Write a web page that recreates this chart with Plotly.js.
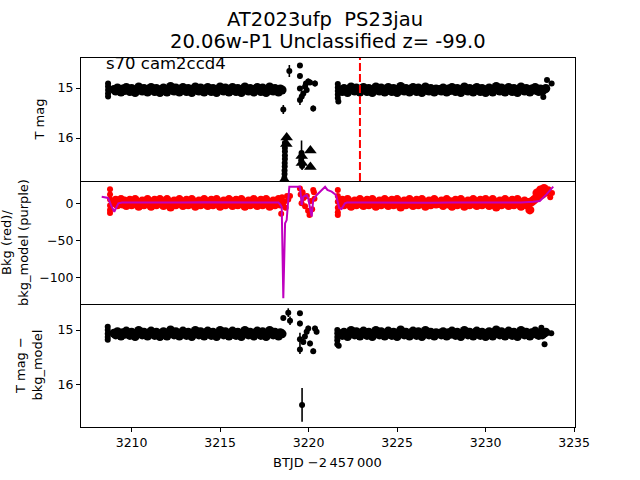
<!DOCTYPE html>
<html>
<head>
<meta charset="utf-8">
<script src="https://cdn.plot.ly/plotly-3.0.1.min.js"></script>
<style>html,body{margin:0;padding:0;background:#fff;}</style>
</head>
<body>
<div id="chart" style="width:640px;height:480px;"></div>
<script>
// ---------------- data ----------------
const titleLine1 = "AT2023ufp\u00a0\u00a0PS23jau";
const titleLine2 = "20.06w-P1 Unclassified z= -99.0";
const fieldLabel = "s70 cam2ccd4";
const xTitle = "BTJD \u22122\u2009457\u2009000";
const discoveryT = 3222.9;

const xTicks = [3210, 3215, 3220, 3225, 3230, 3235];
const magTicks = [15, 16];
const bkgTicks = [0, -50, -100];
const bkgTickText = ["0", "\u221250", "\u2212100"];

// orbit 1 cadence times
const tA = [
3209.0,3209.1,3209.2,3209.3,3209.4,3209.5,3209.6,3209.7,3209.8,3209.9,
3210.0,3210.1,3210.2,3210.3,3210.4,3210.5,3210.6,3210.7,3210.8,3210.9,
3211.0,3211.1,3211.2,3211.3,3211.4,3211.5,3211.6,3211.7,3211.8,3211.9,
3212.0,3212.1,3212.2,3212.3,3212.4,3212.5,3212.6,3212.7,3212.8,3212.9,
3213.0,3213.1,3213.2,3213.3,3213.4,3213.5,3213.6,3213.7,3213.8,3213.9,
3214.0,3214.1,3214.2,3214.3,3214.4,3214.5,3214.6,3214.7,3214.8,3214.9,
3215.0,3215.1,3215.2,3215.3,3215.4,3215.5,3215.6,3215.7,3215.8,3215.9,
3216.0,3216.1,3216.2,3216.3,3216.4,3216.5,3216.6,3216.7,3216.8,3216.9,
3217.0,3217.1,3217.2,3217.3,3217.4,3217.5,3217.6,3217.7,3217.8,3217.9,
3218.0,3218.1,3218.2,3218.3,3218.4,3218.5];
// orbit 2 cadence times
const tB = [
3221.8,3221.9,
3222.0,3222.1,3222.2,3222.3,3222.4,3222.5,3222.6,3222.7,3222.8,3222.9,
3223.0,3223.1,3223.2,3223.3,3223.4,3223.5,3223.6,3223.7,3223.8,3223.9,
3224.0,3224.1,3224.2,3224.3,3224.4,3224.5,3224.6,3224.7,3224.8,3224.9,
3225.0,3225.1,3225.2,3225.3,3225.4,3225.5,3225.6,3225.7,3225.8,3225.9,
3226.0,3226.1,3226.2,3226.3,3226.4,3226.5,3226.6,3226.7,3226.8,3226.9,
3227.0,3227.1,3227.2,3227.3,3227.4,3227.5,3227.6,3227.7,3227.8,3227.9,
3228.0,3228.1,3228.2,3228.3,3228.4,3228.5,3228.6,3228.7,3228.8,3228.9,
3229.0,3229.1,3229.2,3229.3,3229.4,3229.5,3229.6,3229.7,3229.8,3229.9,
3230.0,3230.1,3230.2,3230.3,3230.4,3230.5,3230.6,3230.7,3230.8,3230.9,
3231.0,3231.1,3231.2,3231.3,3231.4,3231.5,3231.6,3231.7,3231.8,3231.9,
3232.0,3232.1,3232.2,3232.3,3232.4,3232.5,3232.6,3232.7,3232.8,3232.9,
3233.0,3233.1,3233.2,3233.3,3233.4];

// T mag
const magA = [
15.03,15.06,15.00,15.04,15.08,15.02,15.05,14.99,15.03,15.07,
15.01,15.05,15.09,15.03,14.98,15.02,15.06,15.01,15.04,15.08,
15.02,14.99,15.04,15.07,15.01,15.05,15.09,15.03,15.00,15.05,
15.08,15.02,14.97,15.03,15.06,15.00,15.04,15.08,15.03,14.99,
15.04,15.07,15.01,15.05,15.09,15.02,14.98,15.03,15.06,15.00,
15.05,15.08,15.02,14.99,15.04,15.07,15.01,15.05,15.09,15.03,
14.98,15.02,15.06,15.00,15.04,15.08,15.03,14.99,15.05,15.07,
15.01,15.04,15.09,15.02,14.98,15.03,15.06,15.01,15.05,15.08,
15.02,14.99,15.04,15.07,15.00,15.05,15.09,15.03,14.98,15.04,
15.06,15.01,15.05,15.08,15.02,15.04];
const magB = [
15.04,15.07,15.01,15.05,15.09,15.02,14.98,15.03,15.06,15.00,
15.05,15.08,15.02,14.99,15.04,15.07,15.01,15.05,15.09,15.03,
14.98,15.02,15.06,15.00,15.04,15.08,15.03,14.99,15.05,15.07,
15.01,15.04,15.09,15.02,14.97,15.03,15.06,15.01,15.05,15.08,
15.02,14.99,15.04,15.07,15.00,15.05,15.09,15.03,14.98,15.04,
15.06,15.01,15.05,15.08,15.02,15.04,15.03,15.06,15.00,15.04,
15.08,15.02,15.05,14.99,15.03,15.07,15.01,15.05,15.09,15.03,
14.98,15.02,15.06,15.01,15.04,15.08,15.02,14.99,15.04,15.07,
15.01,15.05,15.09,15.03,15.00,15.05,15.08,15.02,14.97,15.03,
15.06,15.00,15.04,15.08,15.03,14.99,15.04,15.07,15.01,15.05,
15.09,15.02,14.98,15.03,15.06,15.01,15.05,15.08,15.02,15.04,
14.99,15.05,15.07,15.02,15.06,15.03,15.01];
const magEdgeT = [3208.67,3208.67,3208.67,3208.67,3208.67,3221.65,3221.65,3221.65,3221.65,3221.65,3221.68,3233.26,3233.47,3233.73];
const magEdgeV = [14.91,14.97,15.04,15.11,15.17,14.92,14.99,15.06,15.13,15.20,15.27,15.18,14.84,14.91];
const magGapT = [3218.57,3218.91,3219.51,3219.51,3219.51,3219.61,3219.51,3219.70,3219.80,3219.85,3219.89,3219.98,3220.08,3220.26,3220.36,
3218.66,3218.66,3218.66,3218.66,3218.66,3218.65,3218.65,3218.64,3218.64,3218.63,3219.60,3219.58,3219.63,3219.61];
const magGapV = [15.43,14.66,14.55,14.76,15.01,15.17,15.24,15.11,14.97,14.91,15.04,14.87,14.89,15.41,14.91,
16.10,16.20,16.27,16.35,16.42,16.50,16.57,16.65,16.72,16.80,16.30,16.45,16.56,16.38];
const magGapErr = [0.09,0.12,0.04,0.05,0.05,0.10,0.10,0.05,0.05,0.05,0.05,0.06,0.05,0.06,0.06,
0.08,0.08,0.08,0.08,0.08,0.08,0.08,0.08,0.08,0.08,0.25,0.08,0.08,0.08];
// upper limits
const limT = [3218.76,3218.74,3218.63,3219.61,3219.62,3220.10,3220.10];
const limV = [15.99,16.12,16.84,16.36,16.50,16.25,16.58];

// background (red) and background model (purple)
const bkgA = [
1,4,-2,2,5,-1,3,-3,0,4,
-2,2,5,0,-4,-1,3,-2,1,5,
-1,-4,1,4,-2,2,5,0,-3,2,
5,-1,-5,0,3,-2,1,5,0,-3,
1,4,-2,2,5,-1,-4,0,3,-2,
2,5,-1,-3,1,4,-2,2,5,0,
-4,-1,3,-2,1,5,0,-3,2,4,
-2,1,5,-1,-4,0,3,-2,2,5,
-1,-3,1,4,-2,2,5,0,-4,1,
3,-2,2,5,-1,1];
const bkgB = [
2,4,-2,1,5,-1,-4,0,3,-2,
2,5,-1,-3,1,4,-2,2,5,0,
-4,-1,3,-2,1,5,0,-3,2,4,
-2,1,5,-1,-5,0,3,-2,2,5,
-1,-3,1,4,-2,2,5,0,-4,1,
3,-2,2,5,-1,1,0,3,-3,1,
5,-1,2,-4,0,4,-2,2,5,0,
-4,-1,3,-2,1,5,-1,-3,1,4,
-2,2,5,0,-3,2,5,-1,-5,0,
3,-2,1,5,0,-3,1,4,-2,2,
5,-1,-4,0,3,-2,1,-9,2,4,
6,14,9,18,12,20,15];
const bkgEdgeT = [3208.78,3208.78,3208.78,3208.78,3208.78,3208.78,3218.45,
3218.50,3218.55,3218.62,3218.70,3218.78,3218.85,3218.95,
3219.51,3219.55,3219.60,3219.66,3219.72,3219.80,3219.90,3219.97,3220.05,3220.12,3220.20,3220.26,3220.30,3220.33,
3221.65,3221.65,3221.65,3221.65,3221.65,3221.65,3233.55,3233.65,3233.75];
const bkgEdgeV = [19,12,5,-3,-9,-13,-14,
8,-3,2,-6,10,5,10,
20,12,0,15,7,-4,10,-10,-16,3,-8,18,15,6,
18,10,2,-6,-12,-16,19,8,14];
const modelT = [3208.31,3208.67,3208.83,3209.02,3209.25,3209.46,3210.0,3211.0,3212.0,3213.0,3214.0,3215.0,3216.0,3217.0,3218.0,3218.30,3218.42,3218.48,3218.57,3218.67,3218.76,3218.91,3219.51,3219.61,3219.70,3219.89,3219.98,3220.17,3220.26,3220.46,3220.93,3221.06,3221.30,3221.55,3221.73,3221.86,3222.05,3222.17,3223.0,3224.0,3225.0,3226.0,3227.0,3228.0,3229.0,3230.0,3231.0,3232.0,3232.68,3233.06,3233.44,3233.82];
const modelV = [8.9,7.2,-2.3,-11.4,0,1.0,1.2,0.8,1.3,1.0,1.5,1.1,0.7,1.2,1.0,1.0,-2.5,-5,-128.4,-27,-22.7,22.4,22.4,-2.3,8.9,11.2,6.8,-18.1,4.5,11.2,22.4,18,15.7,11.2,-6.8,-7.7,0,1,1.2,0.9,1.3,1.0,0.8,1.2,1.0,1.4,0.9,1.1,2.2,3.1,12,22.4];

// T mag - bkg_model
const diffA = [
15.06,15.09,15.03,15.07,15.11,15.05,15.08,15.02,15.06,15.10,
15.04,15.08,15.12,15.06,15.01,15.05,15.09,15.04,15.07,15.11,
15.05,15.02,15.07,15.10,15.04,15.08,15.12,15.06,15.03,15.08,
15.11,15.05,15.00,15.06,15.09,15.03,15.07,15.11,15.06,15.02,
15.07,15.10,15.04,15.08,15.12,15.05,15.01,15.06,15.09,15.03,
15.08,15.11,15.05,15.02,15.07,15.10,15.04,15.08,15.12,15.06,
15.01,15.05,15.09,15.03,15.07,15.11,15.06,15.02,15.08,15.10,
15.04,15.07,15.12,15.05,15.01,15.06,15.09,15.04,15.08,15.11,
15.05,15.02,15.07,15.10,15.03,15.08,15.12,15.06,15.01,15.07,
15.09,15.04,15.08,15.11,15.05,15.07];
const diffB = [
15.07,15.10,15.04,15.08,15.12,15.05,15.01,15.06,15.09,15.03,
15.08,15.11,15.05,15.02,15.07,15.10,15.04,15.08,15.12,15.06,
15.01,15.05,15.09,15.03,15.07,15.11,15.06,15.02,15.08,15.10,
15.04,15.07,15.12,15.05,15.00,15.06,15.09,15.04,15.08,15.11,
15.05,15.02,15.07,15.10,15.03,15.08,15.12,15.06,15.01,15.07,
15.09,15.04,15.08,15.11,15.05,15.07,15.06,15.09,15.03,15.07,
15.11,15.05,15.08,15.02,15.06,15.10,15.04,15.08,15.12,15.06,
15.01,15.05,15.09,15.04,15.07,15.11,15.05,15.02,15.07,15.10,
15.04,15.08,15.12,15.06,15.03,15.08,15.11,15.05,15.00,15.06,
15.09,15.03,15.07,15.11,15.06,15.02,15.07,15.10,15.04,15.08,
15.12,15.05,15.01,15.06,15.09,15.04,15.08,15.11,15.05,15.07,
15.02,15.08,15.10,15.05,15.09,15.06,15.04];
const diffEdgeT = [3208.65,3208.65,3208.65,3208.65,3208.65,3221.62,3221.62,3221.62,3221.62,3221.62,3221.70,3233.15,3233.33,3233.71];
const diffEdgeV = [14.94,15.00,15.07,15.13,15.18,15.00,15.06,15.13,15.19,15.26,15.29,14.96,15.26,15.06];
const diffGapT = [3218.57,3218.85,3218.95,3219.51,3219.51,3219.51,3219.51,3219.70,3219.79,3219.89,3219.98,3220.08,3220.26,3220.36,3220.45,3219.63];
const diffGapV = [14.78,14.68,14.83,14.69,14.88,15.17,15.36,15.22,15.12,15.03,14.97,15.25,15.39,14.97,15.03,16.38];
const diffGapErr = [0.04,0.08,0.08,0.04,0.05,0.12,0.08,0.05,0.05,0.05,0.05,0.05,0.05,0.05,0.05,0.31];

// ---------------- styles ----------------
const FONT = "DejaVu Sans";
const BLACK = "#000000";
const RED = "#ff0000";
const PURPLE = "#bf00bf";
const dot = {color: BLACK, size: 6, line: {width: 0}};
const bandDot = {color: BLACK, size: 9, line: {width: 0}};
const redDot = {color: RED, size: 9, line: {width: 0}};
const errStyle = (arr) => ({type: 'data', array: arr, visible: true, color: BLACK, thickness: 1.6, width: 0});

const traces = [
  {x: tA, y: magA, xaxis: 'x', yaxis: 'y', type: 'scatter', mode: 'markers', marker: bandDot},
  {x: tB, y: magB, xaxis: 'x', yaxis: 'y', type: 'scatter', mode: 'markers', marker: bandDot},
  {x: magEdgeT, y: magEdgeV, xaxis: 'x', yaxis: 'y', type: 'scatter', mode: 'markers', marker: dot},
  {x: magGapT, y: magGapV, error_y: errStyle(magGapErr), xaxis: 'x', yaxis: 'y', type: 'scatter', mode: 'markers', marker: dot},
  {x: limT, y: limV, xaxis: 'x', yaxis: 'y', type: 'scatter', mode: 'markers', marker: {color: BLACK, size: 11, symbol: 'triangle-up', line: {width: 0}}},

  {x: tA, y: bkgA, xaxis: 'x2', yaxis: 'y2', type: 'scatter', mode: 'markers', marker: redDot},
  {x: tB, y: bkgB, xaxis: 'x2', yaxis: 'y2', type: 'scatter', mode: 'markers', marker: redDot},
  {x: bkgEdgeT, y: bkgEdgeV, xaxis: 'x2', yaxis: 'y2', type: 'scatter', mode: 'markers', marker: {color: RED, size: 6, line: {width: 0}}},
  {x: modelT, y: modelV, xaxis: 'x2', yaxis: 'y2', type: 'scatter', mode: 'lines', line: {color: PURPLE, width: 2}},

  {x: tA, y: diffA, xaxis: 'x3', yaxis: 'y3', type: 'scatter', mode: 'markers', marker: bandDot},
  {x: tB, y: diffB, xaxis: 'x3', yaxis: 'y3', type: 'scatter', mode: 'markers', marker: bandDot},
  {x: diffEdgeT, y: diffEdgeV, xaxis: 'x3', yaxis: 'y3', type: 'scatter', mode: 'markers', marker: dot},
  {x: diffGapT, y: diffGapV, error_y: errStyle(diffGapErr), xaxis: 'x3', yaxis: 'y3', type: 'scatter', mode: 'markers', marker: dot}
];

const xRange = [3207.14, 3235.05];
const baseAxis = {showline: true, mirror: true, linecolor: BLACK, linewidth: 1, showgrid: false, zeroline: false,
  ticks: 'outside', ticklen: 4, tickwidth: 1, tickcolor: BLACK, tickfont: {family: FONT, size: 12.5, color: BLACK}};

const layout = {
  width: 640, height: 480,
  margin: {l: 81, r: 65, t: 58, b: 53, pad: 0},
  paper_bgcolor: 'white', plot_bgcolor: 'white',
  showlegend: false,
  font: {family: FONT, size: 12.5, color: BLACK},
  xaxis: Object.assign({}, baseAxis, {anchor: 'y', range: xRange, showticklabels: false, ticks: '', mirror: true}),
  xaxis2: Object.assign({}, baseAxis, {anchor: 'y2', range: xRange, showticklabels: false, ticks: '', mirror: false}),
  xaxis3: Object.assign({}, baseAxis, {anchor: 'y3', range: xRange, tickmode: 'array', tickvals: xTicks, mirror: false}),
  yaxis: Object.assign({}, baseAxis, {domain: [2/3, 1], anchor: 'x', range: [16.86, 14.4], tickmode: 'array', tickvals: magTicks}),
  yaxis2: Object.assign({}, baseAxis, {domain: [1/3, 2/3], anchor: 'x2', range: [-136.1, 30.1], tickmode: 'array', tickvals: bkgTicks, ticktext: bkgTickText}),
  yaxis3: Object.assign({}, baseAxis, {domain: [0, 1/3], anchor: 'x3', range: [16.786, 14.521], tickmode: 'array', tickvals: magTicks}),
  shapes: [
    {type: 'line', xref: 'x', yref: 'y domain', x0: discoveryT, x1: discoveryT, y0: 0, y1: 1,
     line: {color: RED, width: 2, dash: '8px,3px'}}
  ],
  annotations: [
    {text: titleLine1, xref: 'paper', yref: 'paper', x: 0.494, y: 1.103, xanchor: 'center', yanchor: 'middle', showarrow: false, font: {family: FONT, size: 19.5, color: BLACK}},
    {text: titleLine2, xref: 'paper', yref: 'paper', x: 0.5, y: 1.0434, xanchor: 'center', yanchor: 'middle', showarrow: false, font: {family: FONT, size: 19.5, color: BLACK}},
    {text: fieldLabel, xref: 'paper', yref: 'paper', x: 0.0466, y: 0.985, xanchor: 'left', yanchor: 'middle', showarrow: false, font: {family: FONT, size: 16.5, color: BLACK}},
    {text: "T mag", xref: 'paper', yref: 'paper', x: -0.083, y: 0.8333, xanchor: 'center', yanchor: 'middle', textangle: -90, showarrow: false, font: {family: FONT, size: 13, color: BLACK}},
    {text: "Bkg (red)/<br>bkg_model (purple)", xref: 'paper', yref: 'paper', x: -0.1345, y: 0.5, xanchor: 'center', yanchor: 'middle', textangle: -90, showarrow: false, font: {family: FONT, size: 13, color: BLACK}},
    {text: "T mag \u2212<br>bkg_model", xref: 'paper', yref: 'paper', x: -0.105, y: 0.1667, xanchor: 'center', yanchor: 'middle', textangle: -90, showarrow: false, font: {family: FONT, size: 13, color: BLACK}},
    {text: xTitle, xref: 'paper', yref: 'paper', x: 0.499, y: -0.0962, xanchor: 'center', yanchor: 'middle', showarrow: false, font: {family: FONT, size: 13, color: BLACK}}
  ]
};

Plotly.newPlot('chart', traces, layout, {staticPlot: true, displayModeBar: false});
</script>
</body>
</html>
